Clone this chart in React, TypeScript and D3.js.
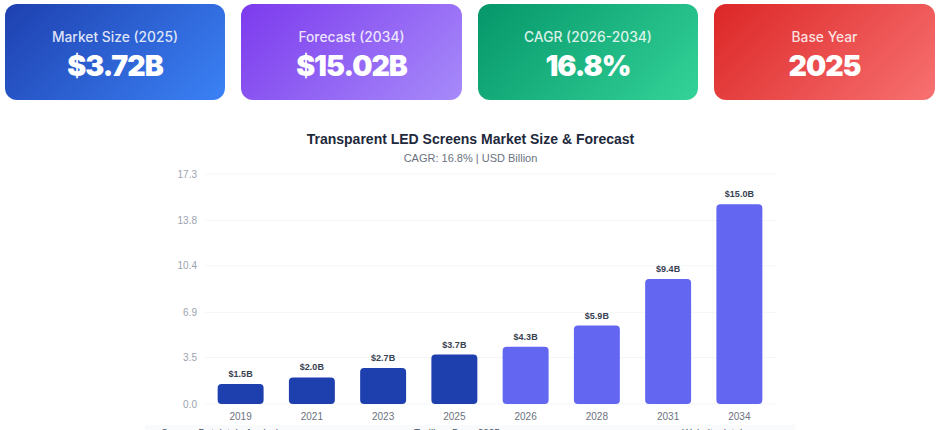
import React, { useEffect, useRef } from "react";
import * as d3 from "d3";

const years = ["2019", "2021", "2023", "2025", "2026", "2028", "2031", "2034"];
const values = [1.5, 2.0, 2.7, 3.72, 4.3, 5.9, 9.4, 15.02];
const barLabels = ["$1.5B", "$2.0B", "$2.7B", "$3.7B", "$4.3B", "$5.9B", "$9.4B", "$15.0B"];
const yTicks = [0, 3.5, 6.9, 10.4, 13.8, 17.3];
const historicYears = ["2019", "2021", "2023", "2025"];

const cardLabels = ["Market Size (2025)", "Forecast (2034)", "CAGR (2026-2034)", "Base Year"];
const cardValues = ["$3.72B", "$15.02B", "16.8%", "2025"];
const cardFrom = ["#1e40af", "#7c3aed", "#059669", "#dc2626"];
const cardTo = ["#3b82f6", "#a78bfa", "#34d399", "#f87171"];
const cardLefts = [5, 241, 478, 714];
const cardWidths = [220, 221, 220, 221];

// only the tops of these show, the page is cut off below them
const footerNotes = ["Source: Dataintelo Analysis", "Trailing: Base 2025", "Website: intelo"];
const footerCenters = [222, 457, 715];

const WIDTH = 939;
const HEIGHT = 430;
const CARD_FONT = "Inter, 'Noto Sans', sans-serif";
const CHART_FONT = "'Liberation Sans', Arial, sans-serif";

const App: React.FC = () => {
  const svgRef = useRef<SVGSVGElement | null>(null);

  useEffect(() => {
    if (!svgRef.current) return;
    const svg = d3.select(svgRef.current);
    svg.selectAll("*").remove();
    svg.attr("width", WIDTH).attr("height", HEIGHT);

    const defs = svg.append("defs");
    cardLabels.forEach((_, i) => {
      const w = cardWidths[i];
      const h = 96;
      // css 135deg gradient line on a non square box
      const half = (w + h) / 4;
      const cx = cardLefts[i] + w / 2;
      const cy = 4 + h / 2;
      const grad = defs.append("linearGradient")
        .attr("id", `card-${i}`)
        .attr("gradientUnits", "userSpaceOnUse")
        .attr("x1", cx - half).attr("y1", cy - half)
        .attr("x2", cx + half).attr("y2", cy + half);
      grad.append("stop").attr("offset", "0%").attr("stop-color", cardFrom[i]);
      grad.append("stop").attr("offset", "100%").attr("stop-color", cardTo[i]);
    });

    // top cards
    const cards = svg.append("g").selectAll("g").data(cardLabels).join("g");
    cards.append("rect")
      .attr("x", (_, i) => cardLefts[i])
      .attr("y", 4)
      .attr("width", (_, i) => cardWidths[i])
      .attr("height", 96)
      .attr("rx", 12)
      .attr("fill", (_, i) => `url(#card-${i})`);
    cards.append("text")
      .attr("x", (_, i) => cardLefts[i] + cardWidths[i] / 2)
      .attr("y", 42)
      .attr("text-anchor", "middle")
      .attr("font-family", CARD_FONT)
      .attr("font-size", 13.8)
      .attr("font-weight", 500)
      .attr("fill", "#fff")
      .attr("fill-opacity", 0.85)
      .text((d) => d);
    cards.append("text")
      .attr("x", (_, i) => cardLefts[i] + cardWidths[i] / 2)
      .attr("y", 76)
      .attr("text-anchor", "middle")
      .attr("font-family", CARD_FONT)
      .attr("font-size", 28.5)
      .attr("font-weight", 900)
      .attr("letter-spacing", -1)
      .attr("fill", "#fff")
      .text((_, i) => cardValues[i]);

    // titles
    svg.append("text")
      .attr("x", 470.5).attr("y", 144)
      .attr("text-anchor", "middle")
      .attr("font-family", CHART_FONT)
      .attr("font-size", 14)
      .attr("font-weight", 700)
      .attr("fill", "#1e293b")
      .text("Transparent LED Screens Market Size & Forecast");
    svg.append("text")
      .attr("x", 470.5).attr("y", 162)
      .attr("text-anchor", "middle")
      .attr("font-family", CHART_FONT)
      .attr("font-size", 11)
      .attr("fill", "#6b7280")
      .text("CAGR: 16.8% | USD Billion");

    const x = d3.scaleBand<string>().domain(years).range([205, 775]).paddingInner(0.355).paddingOuter(0.1775);
    const y = d3.scaleLinear().domain([0, 17.3]).range([404, 174]);

    // grid
    svg.append("g").selectAll("line").data(yTicks).join("line")
      .attr("x1", 205).attr("x2", 776)
      .attr("y1", (d) => y(d)).attr("y2", (d) => y(d))
      .attr("stroke", "#f4f5f8");

    // y axis
    const yAxis = svg.append("g")
      .attr("transform", "translate(205,0)")
      .call(d3.axisLeft(y).tickValues(yTicks).tickSize(0).tickPadding(8).tickFormat(d3.format(".1f")));
    yAxis.select(".domain").remove();
    yAxis.selectAll("text")
      .attr("font-family", CHART_FONT)
      .attr("font-size", 10)
      .attr("fill", "#9ca3af");

    // x axis
    const xAxis = svg.append("g")
      .attr("transform", "translate(0,404)")
      .call(d3.axisBottom(x).tickSize(0).tickPadding(9));
    xAxis.select(".domain").remove();
    xAxis.selectAll("text")
      .attr("font-family", CHART_FONT)
      .attr("font-size", 10)
      .attr("fill", "#6b7280");

    // bars, rounded on all corners
    svg.append("g").selectAll("rect").data(years).join("rect")
      .attr("x", (d) => x(d) ?? 0)
      .attr("y", (_, i) => y(values[i]))
      .attr("width", x.bandwidth())
      .attr("height", (_, i) => y(0) - y(values[i]))
      .attr("rx", 4)
      .attr("fill", (d) => (historicYears.includes(d) ? "#1e40af" : "#6366f1"));

    svg.append("g").selectAll("text").data(years).join("text")
      .attr("x", (d) => (x(d) ?? 0) + x.bandwidth() / 2)
      .attr("y", (_, i) => y(values[i]) - 7)
      .attr("text-anchor", "middle")
      .attr("font-family", CHART_FONT)
      .attr("font-size", 9)
      .attr("font-weight", 700)
      .attr("fill", "#374151")
      .text((_, i) => barLabels[i]);

    // footer strip, runs past the bottom of the window
    svg.append("rect")
      .attr("x", 145).attr("y", 425)
      .attr("width", 650).attr("height", 20)
      .attr("fill", "#f8fafc");
    svg.append("g").selectAll("text").data(footerNotes).join("text")
      .attr("x", (_, i) => footerCenters[i])
      .attr("y", 436.5)
      .attr("text-anchor", "middle")
      .attr("font-family", CHART_FONT)
      .attr("font-size", 10)
      .attr("fill", "#475569")
      .text((d) => d);
  }, []);

  return <svg ref={svgRef} style={{ position: "absolute", left: 0, top: 0, display: "block" }}></svg>;
};

export default App;
